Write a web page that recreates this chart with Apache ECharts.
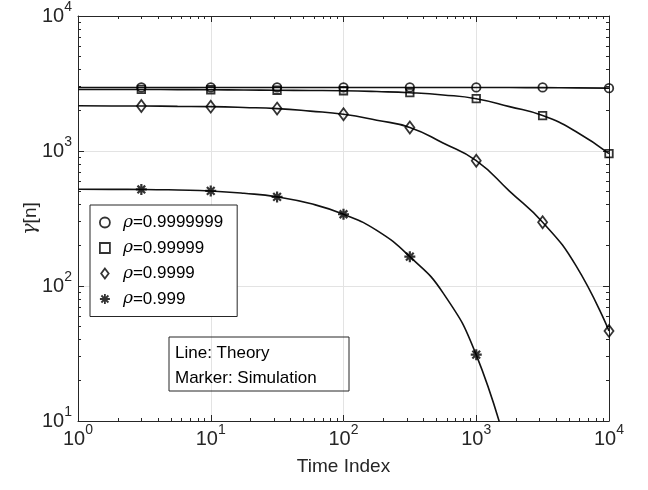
<!DOCTYPE html>
<html>
<head>
<meta charset="utf-8">
<script src="https://cdn.jsdelivr.net/npm/echarts@6/dist/echarts.min.js"></script>
<style>
  html, body { margin: 0; padding: 0; background: #fff; }
  #chart { width: 648px; height: 490px; }
</style>
</head>
<body>
<div id="chart"></div>
<script>
// simulation markers (time index)
var simX = [3, 10, 31.6, 100, 316, 1000, 3162, 10000];
var simA = [2955, 2955, 2955, 2955, 2955, 2955, 2955, 2921];   // rho=0.9999999
var simB = [2857, 2843, 2818, 2795, 2702, 2440, 1830, 955];    // rho=0.99999
var simC = [2153, 2131, 2061, 1871, 1494, 848, 297, 46.5];     // rho=0.9999
var simD = [519, 506, 457, 340, 165, 31];                      // rho=0.999

// theory curves, every quarter decade
var lineX = [1, 1.78, 3.16, 5.62, 10, 17.8, 31.6, 56.2, 100, 178, 316, 562, 1000, 1778, 3162, 5623, 10000];
var lineA = [2955, 2955, 2955, 2955, 2955, 2955, 2955, 2955, 2955, 2955, 2955, 2955, 2955, 2950, 2945, 2935, 2921];
var lineB = [2857, 2857, 2857, 2850, 2843, 2830, 2818, 2809, 2795, 2757, 2702, 2602, 2440, 2131, 1830, 1396, 955];
var lineC = [2161, 2157, 2153, 2142, 2131, 2102, 2061, 1975, 1871, 1690, 1494, 1145, 848, 505, 297, 142, 46.5];
var lineD = [521, 520, 519, 514, 506, 486, 457, 408, 340, 258, 165, 89, 30.9, 5.3];

var legendNames = ['ρ=0.9999999', 'ρ=0.99999', 'ρ=0.9999', 'ρ=0.999'];
var starPath = 'path://M0,-10L0,10M-10,0L10,0M-7,-7L7,7M-7,7L7,-7';
var rectPath = 'path://M0,0L10,0L10,10L0,10Z';
var diamondPath = 'path://M0,-6L4.5,0L0,6L-4.5,0Z';

function pairs(xs, ys) {
    var out = [];
    for (var i = 0; i < ys.length; i++) out.push([xs[i], ys[i]]);
    return out;
}

function supLabel(v) {
    var e = Math.round(Math.log10(v));
    return '{b|10}{s|' + e + '}';
}

var labelRich = {
    b: { fontSize: 20, lineHeight: 20, color: '#262626', fontFamily: 'Liberation Sans', verticalAlign: 'bottom' },
    s: { fontSize: 14, lineHeight: 14, color: '#262626', fontFamily: 'Liberation Sans', verticalAlign: 'bottom', padding: [0, 0, 12, 0] }
};

var axisLineStyle = { color: '#262626', width: 1 };

function logAxis(min, max, pos) {
    return {
        type: 'log', logBase: 10, min: min, max: max, position: pos,
        axisLine: { show: true, onZero: false, lineStyle: axisLineStyle },
        axisTick: { show: true, inside: true, length: 6, lineStyle: axisLineStyle },
        minorTick: { show: true, splitNumber: 9, length: 3, lineStyle: axisLineStyle },
        splitLine: { show: false },
        axisLabel: { show: false }
    };
}

function mainAxis(min, max, pos, name, gap) {
    var ax = logAxis(min, max, pos);
    ax.splitLine = { show: true, lineStyle: { color: '#e3e3e3', width: 1 } };
    ax.axisLabel = { formatter: supLabel, rich: labelRich, margin: 8 };
    ax.name = name;
    ax.nameLocation = 'middle';
    ax.nameGap = gap;
    ax.nameMoveOverlap = false;
    ax.nameTextStyle = { fontSize: 19, color: '#262626', fontFamily: 'Liberation Sans',
        rich: { g: { fontSize: 19, fontFamily: 'DejaVu Serif', fontStyle: 'italic', color: '#262626' } } };
    return ax;
}

function theory(xs, ys) {
    return {
        type: 'line', data: pairs(xs, ys), smooth: 0.5,
        showSymbol: false, silent: true, clip: true,
        lineStyle: { color: '#111', width: 1.6 }, z: 2
    };
}

function sim(name, ys, symbol, size, bw) {
    return {
        type: 'scatter', name: name, data: pairs(simX, ys),
        symbol: symbol, symbolSize: size,
        itemStyle: { color: 'rgba(0,0,0,0)', borderColor: '#000', borderWidth: bw },
        z: 3
    };
}

var yMain = mainAxis(10, 10000, 'left', '{g|γ}[n]', 38);
yMain.axisLabel.margin = 6;

var chart = echarts.init(document.getElementById('chart'), null, { renderer: 'canvas' });
chart.setOption({
    animation: false,
    backgroundColor: '#fff',
    grid: { left: 78, right: 39, top: 12, bottom: 69, containLabel: false },
    xAxis: [
        mainAxis(1, 10000, 'bottom', 'Time Index', 36),
        logAxis(1, 10000, 'top')
    ],
    yAxis: [
        yMain,
        logAxis(10, 10000, 'right')
    ],
    legend: {
        orient: 'vertical', left: 90, top: 205,
        backgroundColor: '#fff', borderColor: '#262626', borderWidth: 1,
        padding: [9, 14, 9, 9],
        itemWidth: 26, itemHeight: 10, itemGap: 8.5,
        data: [
            { name: legendNames[0], icon: 'circle' },
            { name: legendNames[1], icon: rectPath },
            { name: legendNames[2], icon: diamondPath },
            { name: legendNames[3], icon: starPath }
        ],
        itemStyle: { color: 'rgba(0,0,0,0)', borderColor: '#000', borderWidth: 1.8 },
        formatter: function (n) { return '{r|ρ}' + n.slice(1); },
        textStyle: {
            fontSize: 17, lineHeight: 16, color: '#000', fontFamily: 'Liberation Sans',
            rich: { r: { fontSize: 17, fontFamily: 'DejaVu Serif', fontStyle: 'italic', color: '#000' } }
        },
        z: 10
    },
    graphic: [
        { type: 'rect', shape: { x: 169, y: 337, width: 180, height: 54 },
          style: { fill: 'none', stroke: '#262626', lineWidth: 1 }, z: 10 },
        { type: 'text', x: 175, y: 341,
          style: { text: 'Line: Theory\nMarker: Simulation', font: '17px "Liberation Sans"', lineHeight: 25, fill: '#000' }, z: 10 }
    ],
    series: [
        theory(lineX, lineA),
        theory(lineX, lineB),
        theory(lineX, lineC),
        theory(lineX, lineD),
        sim(legendNames[0], simA, 'circle', 8.5, 1.8),
        sim(legendNames[1], simB, 'rect', 7.5, 1.8),
        sim(legendNames[2], simC, 'diamond', [9, 12], 1.8),
        sim(legendNames[3], simD, starPath, 11, 2.2)
    ]
});
</script>
</body>
</html>
